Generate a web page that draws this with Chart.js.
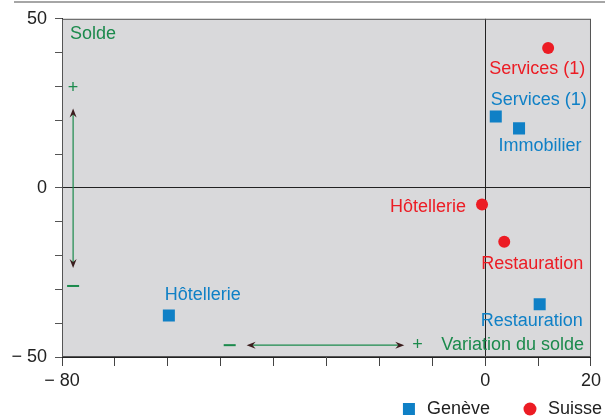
<!DOCTYPE html>
<html>
<head>
<meta charset="utf-8">
<script src="https://cdn.jsdelivr.net/npm/chart.js@4.4.1/dist/chart.umd.min.js"></script>
<style>
  html, body { margin: 0; padding: 0; background: #fff; }
  #wrap { width: 605px; height: 418px; position: relative; }
</style>
</head>
<body>
<div id="wrap"><canvas id="main-chart" width="605" height="418"></canvas></div>
<script>
//data
const seriesNames = ['Genève', 'Suisse'];

const genevaLabels = ['Services (1)', 'Immobilier', 'Restauration', 'Hôtellerie'];
const genevaX = [2.0, 6.4, 10.3, -59.8];
const genevaY = [21.1, 17.6, -34.4, -37.7];

const swissLabels = ['Services (1)', 'Hôtellerie', 'Restauration'];
const swissX = [11.9, -0.6, 3.6];
const swissY = [41.4, -4.9, -15.9];

//axis ticks that carry a label
const xTickLabels = [-80, 0, 20];
const yTickLabels = [50, 0, -50];

//where each point label sits relative to its point (pixels)
const genevaLabelOffsets = [[43, -17], [21, 18], [-8, 17], [34, -20]];
const swissLabelOffsets = [[-11, 21], [-54, 3], [28, 22]];

const blue = '#0f80c6';
const red = '#ec1c24';
const green = '#1b8a4c';
const FONT = '"Liberation Sans", Arial, sans-serif';

function toPoints(xs, ys) {
  return xs.map((x, i) => ({x: x, y: ys[i]}));
}

function minusText(v) {
  return v < 0 ? '\u2212 ' + Math.abs(v) : String(v);
}

//gray plot background, frame and page rule
const framePlugin = {
  id: 'frame',
  beforeDraw(chart) {
    const {ctx, chartArea: a} = chart;
    ctx.save();
    ctx.fillStyle = '#d9d9db';
    ctx.fillRect(a.left, a.top, a.right - a.left, a.bottom - a.top);
    ctx.fillStyle = '#a6a6a6';
    ctx.fillRect(14, 1, chart.width - 14, 2);
    ctx.restore();
  },
  afterDraw(chart) {
    const {ctx, chartArea: a} = chart;
    ctx.save();
    ctx.strokeStyle = '#555';
    ctx.lineWidth = 1;
    ctx.strokeRect(a.left + 0.5, a.top + 0.5, a.right - a.left - 1, a.bottom - a.top - 1);
    ctx.restore();
  }
};

//legend drawn from the datasets, right aligned under the axis
const legendPlugin = {
  id: 'bottomLegend',
  afterDraw(chart) {
    const {ctx} = chart;
    ctx.save();
    ctx.font = '18px ' + FONT;
    ctx.textBaseline = 'middle';
    ctx.textAlign = 'left';
    const y = 409;
    let right = 602;
    const sets = chart.data.datasets.slice().reverse();
    sets.forEach((ds) => {
      const w = ctx.measureText(ds.label).width;
      const tx = right - w;
      ctx.fillStyle = '#222';
      ctx.fillText(ds.label, tx, y);
      const cx = tx - 18;
      ctx.fillStyle = ds.backgroundColor;
      if (ds.pointStyle === 'rect') {
        ctx.fillRect(cx - 6, y - 6, 12, 12);
      } else {
        ctx.beginPath();
        ctx.arc(cx, y, 6.5, 0, Math.PI * 2);
        ctx.fill();
      }
      right = cx - 40;
    });
    ctx.restore();
  }
};

function arrowHead(ctx, x, y, dx, dy) {
  //small dark head pointing along (dx, dy)
  const len = 9, half = 3.5;
  const bx = x - dx * len, by = y - dy * len;
  ctx.beginPath();
  ctx.moveTo(x, y);
  ctx.lineTo(bx - dy * half, by + dx * half);
  ctx.lineTo(bx + dx * 3, by + dy * 3);
  ctx.lineTo(bx + dy * half, by - dx * half);
  ctx.closePath();
  ctx.fillStyle = '#3b1d1d';
  ctx.fill();
}

function minusMark(ctx, x, y) {
  ctx.fillRect(x - 6, y - 1, 12, 2);
}

//point labels and the green guide annotations
const labelPlugin = {
  id: 'pointLabels',
  afterDatasetsDraw(chart) {
    const {ctx} = chart;
    const xs = chart.scales.x, ys = chart.scales.y;
    ctx.save();
    ctx.font = '18px ' + FONT;
    ctx.textAlign = 'center';
    ctx.textBaseline = 'middle';

    const sets = [
      [genevaLabels, genevaLabelOffsets, blue],
      [swissLabels, swissLabelOffsets, red]
    ];
    sets.forEach(([labels, offs, color], di) => {
      const meta = chart.getDatasetMeta(di);
      meta.data.forEach((pt, i) => {
        ctx.fillStyle = color;
        ctx.fillText(labels[i], pt.x + offs[i][0], pt.y + offs[i][1]);
      });
    });

    //green guides, placed in data units
    ctx.fillStyle = green;
    ctx.strokeStyle = green;
    ctx.lineWidth = 1.2;

    ctx.textAlign = 'left';
    ctx.fillText('Solde', xs.getPixelForValue(-78.5), ys.getPixelForValue(45.6));
    ctx.textAlign = 'right';
    ctx.fillText('Variation du solde', xs.getPixelForValue(18.7), ys.getPixelForValue(-46.5));

    //vertical double arrow
    const vx = xs.getPixelForValue(-77.9);
    const vTop = ys.getPixelForValue(23.5), vBot = ys.getPixelForValue(-23.7);
    ctx.beginPath();
    ctx.moveTo(vx, vTop + 4);
    ctx.lineTo(vx, vBot - 4);
    ctx.stroke();
    arrowHead(ctx, vx, vTop, 0, -1);
    arrowHead(ctx, vx, vBot, 0, 1);

    //horizontal double arrow
    const hy = ys.getPixelForValue(-46.5);
    const hL = xs.getPixelForValue(-45.1), hR = xs.getPixelForValue(-15.3);
    ctx.strokeStyle = green;
    ctx.beginPath();
    ctx.moveTo(hL + 4, hy);
    ctx.lineTo(hR - 4, hy);
    ctx.stroke();
    arrowHead(ctx, hL, hy, -1, 0);
    arrowHead(ctx, hR, hy, 1, 0);

    //plus and minus marks
    ctx.fillStyle = green;
    ctx.font = '18px ' + FONT;
    ctx.textAlign = 'center';
    ctx.fillText('+', vx, ys.getPixelForValue(29.6));
    ctx.fillText('+', xs.getPixelForValue(-12.8), hy);
    minusMark(ctx, vx, ys.getPixelForValue(-29));
    minusMark(ctx, xs.getPixelForValue(-48.3), hy);
    ctx.restore();
  }
};

const chart_elem = document.getElementById('main-chart');
const main_chart = new Chart(chart_elem, {
  type: 'scatter',
  data: {
    datasets: [{
      label: seriesNames[0],
      data: toPoints(genevaX, genevaY),
      pointStyle: 'rect',
      pointRadius: 8.5,
      backgroundColor: blue,
      borderColor: blue,
      borderWidth: 0
    }, {
      label: seriesNames[1],
      data: toPoints(swissX, swissY),
      pointStyle: 'circle',
      pointRadius: 6,
      backgroundColor: red,
      borderColor: red,
      borderWidth: 0
    }]
  },
  options: {
    responsive: false,
    animation: false,
    events: [],
    layout: {padding: {top: 18, right: 13, left: 0, bottom: 21}},
    scales: {
      x: {
        type: 'linear',
        min: -80,
        max: 20,
        afterFit: (scale) => { scale.height = 40; },
        border: {display: true, color: '#222', width: 1},
        grid: {
          drawOnChartArea: true,
          color: (c) => c.tick && c.tick.value === 0 ? '#222' : 'rgba(0,0,0,0)',
          tickColor: '#444',
          tickLength: 9
        },
        ticks: {
          stepSize: 10,
          autoSkip: false,
          maxRotation: 0,
          padding: 4,
          color: '#222',
          font: {family: FONT, size: 18},
          callback: (v) => xTickLabels.includes(v) ? minusText(v) : ''
        }
      },
      y: {
        type: 'linear',
        min: -50,
        max: 50,
        afterFit: (scale) => { scale.width = 62; },
        border: {display: true, color: '#222', width: 1},
        grid: {
          drawOnChartArea: true,
          color: (c) => c.tick && c.tick.value === 0 ? '#222' : 'rgba(0,0,0,0)',
          tickColor: '#555',
          tickLength: 7
        },
        ticks: {
          stepSize: 10,
          autoSkip: false,
          padding: 8,
          color: '#222',
          font: {family: FONT, size: 18},
          callback: (v) => yTickLabels.includes(v) ? minusText(v) : ''
        }
      }
    },
    plugins: {
      legend: {display: false},
      tooltip: {enabled: false}
    }
  },
  plugins: [framePlugin, labelPlugin, legendPlugin]
});
</script>
</body>
</html>
